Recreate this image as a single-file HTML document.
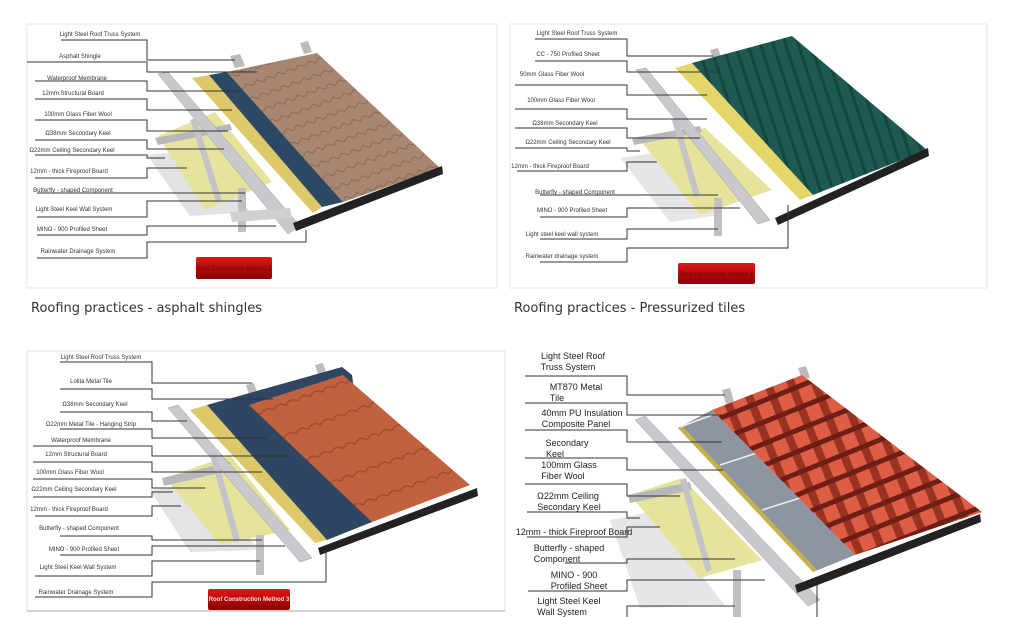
<!DOCTYPE html>
<html><head><meta charset="utf-8"><style>
html,body{margin:0;padding:0;background:#fff;width:1027px;height:617px;overflow:hidden}
svg{position:absolute;left:0;top:0}
.l{font-family:"Liberation Sans","DejaVu Sans",sans-serif;font-size:6px;fill:#333;text-anchor:middle}
.b{font-family:"Liberation Sans",sans-serif;font-size:9px;fill:#222;text-anchor:middle}
.cap{font-family:"DejaVu Sans",Verdana,sans-serif;font-size:13px;fill:#333}
polyline{fill:none;stroke:#333;stroke-width:1}
</style></head><body>
<svg width="1027" height="617" viewBox="0 0 1027 617" xmlns="http://www.w3.org/2000/svg">
<defs>
<pattern id="shg" width="22" height="14" patternUnits="userSpaceOnUse" patternTransform="rotate(-20)">
<rect width="22" height="14" fill="#a78672"/><path d="M0 13 L5 9 L11 13 L16 9 L22 13" stroke="#8a6b58" stroke-width="1" fill="none"/></pattern>
<pattern id="grn" width="12" height="12" patternUnits="userSpaceOnUse" patternTransform="rotate(-18)">
<rect width="12" height="12" fill="#1e5a52"/><rect width="3" height="12" fill="#144640"/></pattern>
<pattern id="org" width="26" height="30" patternUnits="userSpaceOnUse" patternTransform="rotate(-20)">
<rect width="26" height="30" fill="#c1623e"/><path d="M0 29 Q6 22 13 29 Q19 22 26 29" stroke="#9c4a2c" stroke-width="1.2" fill="none"/></pattern>
<pattern id="red" width="22" height="20" patternUnits="userSpaceOnUse" patternTransform="rotate(-22)">
<rect width="22" height="20" fill="#dd5e45"/><rect x="14" width="8" height="20" fill="#9a3222"/><rect y="15" width="22" height="5" fill="#6e1e14"/></pattern>
<linearGradient id="btn" x1="0" y1="0" x2="0" y2="1"><stop offset="0" stop-color="#e01818"/><stop offset="1" stop-color="#8a0000"/></linearGradient>
</defs>

<!-- PANEL 1 -->
<rect x="27" y="24" width="470" height="264" fill="none" stroke="#e4e4e4"/>
<polygon points="147,155 200,150 250,212 190,216" fill="#e2e2e4"/>
<polygon points="158,136 215,112 272,182 205,210" fill="#e6e49c"/>
<polygon points="155,138 230,124 232,130 158,145" fill="#b8b8bc"/>
<polygon points="158,74 168,72 300,226 288,234" fill="#c9c9cd" stroke="#999" stroke-width=".5"/>
<polygon points="230,56 240,54 245,66 235,68" fill="#bbb"/>
<polygon points="300,43 308,41 312,52 304,54" fill="#bbb"/>
<polygon points="190,120 196,118 222,200 216,202" fill="#c4c4c8"/>
<polygon points="238,188 246,188 246,232 238,232" fill="#c0c0c4"/>
<polygon points="230,212 290,208 292,218 232,222" fill="#d0d0d2"/>
<polygon points="192,78 209,75 322,207 313,213" fill="#ddc96a"/>
<polygon points="209,75 227,72 343,202 322,207" fill="#2c4862"/>
<polygon points="227,72 317,53 440,168 343,202" fill="url(#shg)"/>
<polygon points="293,223 442,166 443,174 296,231" fill="#222"/>
<polyline points="61,40 147,40 147,60 235,60"/>
<polyline points="27,62 147,62 147,72 257,72"/>
<polyline points="35,81 147,81 147,91 240,91"/>
<polyline points="35,99 147,99 147,110 232,110"/>
<polyline points="35,120 147,120 147,131 228,131"/>
<polyline points="35,140 147,140 147,149 224,149"/>
<polyline points="35,155 147,155 147,158 165,158"/>
<polyline points="35,178 147,178 147,168 187,168"/>
<polyline points="37,193 245,193"/>
<polyline points="37,217 147,217 147,201 242,201"/>
<polyline points="37,235 147,235 147,226 276,226"/>
<polyline points="37,258 147,258 147,242 306,242 306,230"/>
<text class="l" x="100" y="36">Light Steel Roof Truss System</text>
<text class="l" x="80" y="58">Asphalt Shingle</text>
<text class="l" x="77" y="80">Waterproof Membrane</text>
<text class="l" x="73" y="95">12mm Structural Board</text>
<text class="l" x="78" y="116">100mm Glass Fiber Wool</text>
<text class="l" x="78" y="135">Ω38mm Secondary Keel</text>
<text class="l" x="72" y="152">Ω22mm Ceiling Secondary Keel</text>
<text class="l" x="69" y="173">12mm - thick Fireproof Board</text>
<text class="l" x="73" y="192">Butterfly - shaped Component</text>
<text class="l" x="74" y="211">Light Steel Keel Wall System</text>
<text class="l" x="72" y="231">MINO - 900 Profiled Sheet</text>
<text class="l" x="78" y="253">Rainwater Drainage System</text>
<rect x="196" y="257" width="76" height="22" rx="2" fill="url(#btn)"/>
<text class="l" x="234" y="270" style="fill:#700">Roof Construction Method 1</text>

<!-- PANEL 2 -->
<rect x="510" y="24" width="477" height="264" fill="none" stroke="#e4e4e4"/>
<polygon points="620,158 660,152 720,215 670,222" fill="#e6e6e8"/>
<polygon points="640,140 705,128 772,190 700,215" fill="#e6e49c"/>
<polygon points="632,138 700,126 702,132 634,145" fill="#b8b8bc"/>
<polygon points="636,70 646,68 770,220 758,224" fill="#c9c9cd" stroke="#999" stroke-width=".5"/>
<polygon points="710,50 718,48 722,60 714,62" fill="#bbb"/>
<polygon points="672,120 678,118 700,195 694,197" fill="#c4c4c8"/>
<polygon points="714,198 722,198 722,236 714,236" fill="#c0c0c4"/>
<polygon points="675,68 692,63 813,195 800,200" fill="#e5d66a"/>
<polygon points="692,63 792,36 927,150 813,195" fill="url(#grn)"/>
<polygon points="775,218 928,148 929,156 778,225" fill="#222"/>
<polyline points="535,39 627,39 627,56 713,56"/>
<polyline points="535,61 627,61 627,72 717,72"/>
<polyline points="515,85 627,85 627,95 707,95"/>
<polyline points="515,109 627,109 627,119 707,119"/>
<polyline points="515,128 627,128 627,138 700,138"/>
<polyline points="515,148 627,148 627,151 640,151"/>
<polyline points="517,171 627,171 627,162 657,162"/>
<polyline points="540,195 718,195"/>
<polyline points="540,217 627,217 627,208 740,208"/>
<polyline points="540,239 627,239 627,229 718,229"/>
<polyline points="540,262 627,262 627,248 788,248 788,205"/>
<text class="l" x="577" y="35">Light Steel Roof Truss System</text>
<text class="l" x="568" y="56">CC - 750 Profiled Sheet</text>
<text class="l" x="552" y="76">50mm Glass Fiber Wool</text>
<text class="l" x="561" y="102">100mm Glass Fiber Wool</text>
<text class="l" x="565" y="125">Ω38mm Secondary Keel</text>
<text class="l" x="568" y="144">Ω22mm Ceiling Secondary Keel</text>
<text class="l" x="550" y="168">12mm - thick Fireproof Board</text>
<text class="l" x="575" y="194">Butterfly - shaped Component</text>
<text class="l" x="572" y="212">MINO - 900 Profiled Sheet</text>
<text class="l" x="562" y="236">Light steel keel wall system</text>
<text class="l" x="562" y="258">Rainwater drainage system</text>
<rect x="678" y="263" width="77" height="21" rx="2" fill="url(#btn)"/>
<text class="l" x="716" y="276" style="fill:#700">Roof construction method 2</text>

<text class="cap" x="31" y="312">Roofing practices - asphalt shingles</text>
<text class="cap" x="514" y="312">Roofing practices - Pressurized tiles</text>

<!-- PANEL 3 -->
<rect x="27" y="351" width="478" height="260" fill="none" stroke="#e0e0e0"/>
<line x1="27" y1="611" x2="505" y2="611" stroke="#aaa"/>
<polygon points="150,490 200,485 260,550 190,552" fill="#e4e4e6"/>
<polygon points="165,478 230,455 290,530 220,545" fill="#e6e49c"/>
<polygon points="162,478 230,462 232,470 164,486" fill="#b8b8bc"/>
<polygon points="168,408 178,405 312,558 300,562" fill="#c9c9cd" stroke="#999" stroke-width=".5"/>
<polygon points="246,385 254,383 258,395 250,397" fill="#bbb"/>
<polygon points="315,365 323,363 327,375 319,377" fill="#bbb"/>
<polygon points="210,455 216,453 240,540 234,542" fill="#c4c4c8"/>
<polygon points="256,535 264,535 264,575 256,575" fill="#c0c0c4"/>
<polygon points="190,410 207,405 327,540 315,543" fill="#ddc96a"/>
<polygon points="207,405 342,367 352,375 372,522 327,540" fill="#2f4663"/>
<polygon points="249,405 343,375 470,485 372,522" fill="url(#org)"/>
<polygon points="318,548 477,488 478,496 320,555" fill="#222"/>
<polyline points="60,362 152,362 152,383 252,383"/>
<polyline points="60,389 152,389 152,399 273,399"/>
<polyline points="60,412 152,412 152,421 187,421"/>
<polyline points="60,429 152,429 152,438 267,438"/>
<polyline points="33,446 152,446 152,456 289,456"/>
<polyline points="33,462 152,462 152,472 262,472"/>
<polyline points="33,479 152,479 152,488 205,488"/>
<polyline points="33,497 152,497 152,492 173,492"/>
<polyline points="35,516 152,516 152,506 181,506"/>
<polyline points="60,536 152,536 152,540 262,540"/>
<polyline points="60,555 152,555 152,546 285,546"/>
<polyline points="35,576 152,576 152,561 260,561"/>
<polyline points="35,597 152,597 152,582 326,582 326,550"/>
<text class="l" x="101" y="359">Light Steel Roof Truss System</text>
<text class="l" x="91" y="383">Lolita Metal Tile</text>
<text class="l" x="95" y="406">Ω38mm Secondary Keel</text>
<text class="l" x="91" y="426">Ω22mm Metal Tile - Hanging Strip</text>
<text class="l" x="81" y="442">Waterproof Membrane</text>
<text class="l" x="76" y="456">12mm Structural Board</text>
<text class="l" x="70" y="474">100mm Glass Fiber Wool</text>
<text class="l" x="74" y="491">Ω22mm Ceiling Secondary Keel</text>
<text class="l" x="69" y="511">12mm - thick Fireproof Board</text>
<text class="l" x="79" y="530">Butterfly - shaped Component</text>
<text class="l" x="84" y="551">MINO - 900 Profiled Sheet</text>
<text class="l" x="78" y="569">Light Steel Keel Wall System</text>
<text class="l" x="76" y="594">Rainwater Drainage System</text>
<rect x="208" y="589" width="82" height="21" rx="2" fill="url(#btn)"/>
<text class="l" x="249" y="601" style="fill:#fdd;font-weight:bold">Roof Construction Method 3</text>

<!-- PANEL 4 -->
<polygon points="610,520 650,512 725,605 640,608" fill="#e6e6e8"/>
<polygon points="630,495 682,478 762,560 700,578" fill="#e6e49c"/>
<polygon points="628,495 690,482 692,490 630,503" fill="#b8b8bc"/>
<polygon points="635,420 645,416 820,600 808,606" fill="#c9c9cd" stroke="#999" stroke-width=".5"/>
<polygon points="722,390 730,388 734,402 726,404" fill="#bbb"/>
<polygon points="798,368 806,366 810,378 802,380" fill="#bbb"/>
<polygon points="680,480 686,478 712,570 706,572" fill="#c4c4c8"/>
<polygon points="733,570 741,570 741,617 733,617" fill="#c0c0c4"/>
<polygon points="678,428 712,410 855,555 813,572" fill="#8d95a2"/>
<polygon points="678,428 682,426 817,570 813,572" fill="#c6b24a"/>
<line x1="680" y1="427" x2="712" y2="415" stroke="#eee" stroke-width="1.5"/>
<line x1="720" y1="465" x2="760" y2="452" stroke="#eee" stroke-width="1.5"/>
<line x1="762" y1="510" x2="800" y2="498" stroke="#eee" stroke-width="1.5"/>
<polygon points="712,410 802,375 982,512 855,555" fill="url(#red)"/>
<polygon points="795,585 980,514 981,522 797,593" fill="#222"/>
<polyline points="525,376 627,376 627,395 725,395"/>
<polyline points="525,403 627,403 627,415 725,415"/>
<polyline points="525,430 627,430 627,442 722,442"/>
<polyline points="525,458 627,458 627,470 723,470"/>
<polyline points="525,484 627,484 627,496 680,496"/>
<polyline points="527,512 627,512 627,518 640,518"/>
<polyline points="527,537 627,537 627,527 660,527"/>
<polyline points="565,563 627,563 627,559 735,559"/>
<polyline points="528,591 627,591 627,580 765,580"/>
<polyline points="627,617 627,606 735,606"/>
<line x1="817" y1="585" x2="817" y2="617" stroke="#333"/>
<text class="b" x="573" y="359">Light Steel Roof</text>
<text class="b" x="568" y="370">Truss System</text>
<text class="b" x="576" y="390">MT870 Metal</text>
<text class="b" x="557" y="401">Tile</text>
<text class="b" x="582" y="416">40mm PU Insulation</text>
<text class="b" x="576" y="427">Composite Panel</text>
<text class="b" x="567" y="446">Secondary</text>
<text class="b" x="555" y="457">Keel</text>
<text class="b" x="569" y="468">100mm Glass</text>
<text class="b" x="563" y="479">Fiber Wool</text>
<text class="b" x="568" y="499">Ω22mm Ceiling</text>
<text class="b" x="569" y="510">Secondary Keel</text>
<text class="b" x="574" y="535">12mm - thick Fireproof Board</text>
<text class="b" x="569" y="551">Butterfly - shaped</text>
<text class="b" x="557" y="562">Component</text>
<text class="b" x="574" y="578">MINO - 900</text>
<text class="b" x="579" y="589">Profiled Sheet</text>
<text class="b" x="569" y="604">Light Steel Keel</text>
<text class="b" x="562" y="615">Wall System</text>
</svg>
</body></html>
